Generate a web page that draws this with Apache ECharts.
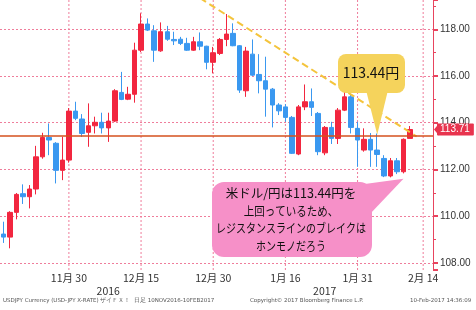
<!DOCTYPE html>
<html><head><meta charset="utf-8">
<script src="https://cdn.jsdelivr.net/npm/echarts@6/dist/echarts.min.js"></script>
<style>html,body{margin:0;padding:0;background:#fff}#c{width:476px;height:310px}</style>
</head><body><div id="c"></div>
<script>
const categories = ['2016-11-16','2016-11-17','2016-11-18','2016-11-21','2016-11-22','2016-11-23','2016-11-24','2016-11-25','2016-11-28','2016-11-29','2016-11-30',
 '2016-12-01','2016-12-02','2016-12-05','2016-12-06','2016-12-07','2016-12-08','2016-12-09','2016-12-12','2016-12-13','2016-12-14','2016-12-15','2016-12-16','2016-12-19','2016-12-20','2016-12-21','2016-12-22','2016-12-23','2016-12-26','2016-12-27','2016-12-28','2016-12-29','2016-12-30',
 '2017-01-02','2017-01-03','2017-01-04','2017-01-05','2017-01-06','2017-01-09','2017-01-10','2017-01-11','2017-01-12','2017-01-13','2017-01-16','2017-01-17','2017-01-18','2017-01-19','2017-01-20','2017-01-23','2017-01-24','2017-01-25','2017-01-26','2017-01-27','2017-01-30','2017-01-31',
 '2017-02-01','2017-02-02','2017-02-03','2017-02-06','2017-02-07','2017-02-08','2017-02-09','2017-02-10','2017-02-13','2017-02-14','2017-02-15'];
const openV  = [109.23,109.10,110.16,110.96,110.83,111.16,112.54,113.37,113.12,111.96,112.40,
 114.50,114.16,113.59,113.87,114.02,113.78,114.07,115.30,115.01,115.22,117.11,118.23,117.94,117.08,117.90,117.57,117.58,117.40,117.11,117.47,117.28,116.59,
 116.97,117.57,117.83,117.30,115.37,116.94,116.07,115.80,115.44,114.76,114.68,114.23,112.66,114.68,114.90,114.40,112.71,113.80,113.33,114.54,115.11,113.76,
 112.83,113.29,112.83,112.47,111.72,112.37,111.90,113.33];
const closeV = [109.10,110.16,110.93,110.83,111.16,112.54,113.37,113.26,111.96,112.40,114.50,
 114.19,113.54,113.87,114.02,113.78,114.07,115.37,115.00,115.22,117.11,118.23,117.97,117.11,117.90,117.58,117.51,117.40,117.11,117.47,117.28,116.59,117.00,
 117.57,117.80,117.30,115.40,117.07,116.04,115.80,115.44,114.76,114.51,114.23,112.69,114.68,114.90,114.66,112.76,113.80,113.33,114.54,115.11,113.80,113.26,
 113.29,112.83,112.64,111.72,112.37,111.90,113.29,113.71];
const lowV   = [108.85,108.62,109.86,110.52,110.33,110.93,112.46,112.61,111.40,111.54,112.29,
 114.11,113.39,112.97,113.54,113.54,113.18,114.03,114.97,114.97,114.86,117.03,117.93,116.61,117.04,117.51,117.33,117.33,117.08,117.08,117.11,116.29,116.12,
 116.90,117.28,117.28,115.28,115.11,116.00,115.26,114.26,113.80,114.33,114.04,112.66,112.61,114.54,114.29,112.61,112.61,113.09,113.09,114.50,113.54,112.11,
 112.76,112.11,112.11,111.67,111.66,111.80,111.83,113.33];
const highV  = [109.76,110.21,110.99,111.36,111.33,113.01,113.57,113.97,113.17,113.40,114.63,
 114.90,114.37,114.83,114.26,114.43,114.43,115.44,116.18,115.54,117.43,118.69,118.47,118.18,118.30,118.15,117.90,117.68,117.64,117.68,117.87,117.30,117.25,
 117.63,118.66,118.26,117.33,117.25,117.57,116.94,116.83,115.49,114.84,114.80,114.29,114.76,115.64,115.47,114.46,113.86,114.04,114.63,115.43,115.23,114.04,
 113.76,113.56,113.54,112.61,112.49,112.49,113.33,113.86];

const xLabelDates = ['2016-11-30','2016-12-15','2016-12-30','2017-01-16','2017-01-31','2017-02-14'];
const xLabelTexts = ['11月 30','12月 15','12月 30','1月 16','1月 31','2月 14'];
const yearLabelDates = ['2016-12-08','2017-01-24'];
const yearLabelTexts = ['2016','2017'];
const yMin = 107.69, yMax = 119.26;
const resistanceLevel = 113.44;
const lastPrice = 113.71;
const trendDates = ['2016-12-28','2017-02-13'];
const trendValues = [119.34, 113.41];
const yellowAnchor = ['2017-02-03', 113.44];
const yellowText = '113.44円';
const pinkAnchor = ['2017-02-09', 111.6];
const pinkLines = ['米ドル/円は113.44円を','上回っているため、','レジスタンスラインのブレイクは','ホンモノだろう'];
const pinkScale = [1.0, 0.84, 0.8, 0.8];
const footerLeft = 'USDJPY Currency (USD-JPY X-RATE) ザイＦＸ！  日足 10NOV2016-10FEB2017';
const footerMid = 'Copyright© 2017 Bloomberg Finance L.P.';
const footerRight = '10-Feb-2017 14:36:09';

const candleData = openV.map((o,i)=>[o, closeV[i], lowV[i], highV[i]]);
const GRID = '#ef7d9b';
const chart = echarts.init(document.getElementById('c'), null, {renderer:'canvas'});
const vGridSeries = xLabelDates.map(d=>({
  type:'line', data:[[d,yMin],[d,yMax]], z:1, symbol:'none', silent:true, clip:true,
  lineStyle:{color:GRID, type:[2,2], width:1}
}));
const option = {
  animation:false,
  backgroundColor:'#ffffff',
  grid:{left:0, right:43, top:0, bottom:40},
  xAxis:[{
    type:'category', data:categories, boundaryGap:true,
    axisLine:{show:false}, axisTick:{show:false}, splitLine:{show:false},
    axisLabel:{interval:(i)=>xLabelDates.indexOf(categories[i])>=0, formatter:v=>{const k=xLabelDates.indexOf(v);return k>=0?xLabelTexts[k]:'';},
      color:'#333', fontSize:10.5, fontFamily:'Noto Sans CJK JP', margin:3}
  },{
    type:'category', data:categories, boundaryGap:true, position:'bottom', offset:13,
    axisLine:{show:false}, axisTick:{show:false}, splitLine:{show:false},
    axisLabel:{interval:(i)=>yearLabelDates.indexOf(categories[i])>=0, formatter:v=>{const k=yearLabelDates.indexOf(v);return k>=0?yearLabelTexts[k]:'';},
      color:'#333', fontSize:10.5, fontFamily:'Noto Sans CJK JP', margin:3}
  }],
  yAxis:{
    type:'value', position:'right', min:yMin, max:yMax, splitNumber:5, scale:true,
    axisLine:{show:true, lineStyle:{color:'#e8445e', width:1}},
    axisTick:{show:true, length:5, lineStyle:{color:'#e8445e', width:2}},
    minorTick:{show:true, splitNumber:2, length:3, lineStyle:{color:'#e8445e', width:1}},
    splitLine:{show:true, showMinLine:false, showMaxLine:false, lineStyle:{color:GRID, type:[2,2], width:1}},
    axisLabel:{showMinLabel:false, showMaxLabel:false, formatter:v=>(Math.abs(v%2)<1e-6 && v>=108 && v<=118)?v.toFixed(2):'',
      color:'#333', fontSize:10, fontFamily:'Liberation Sans', margin:7}
  },
  series:[{
    type:'candlestick', data:candleData, z:3, barWidth:5,
    itemStyle:{color:'#f2263f', color0:'#3a98f0', borderColor:'#f2263f', borderColor0:'#3a98f0', borderWidth:1}
  },{
    type:'line', data:trendDates.map((d,i)=>[d,trendValues[i]]), z:4, symbol:'none', silent:true,
    lineStyle:{color:'#f4c43c', width:2, type:[7,4]}
  },{
    type:'line', data:[], z:5, silent:true,
    markLine:{silent:true, symbol:'none', animation:false,
      data:[
        {yAxis:resistanceLevel, lineStyle:{color:'#d4501e', width:1.5, type:'solid'}, label:{show:false}}
      ]}
  },{
    type:'line', data:[], z:6, silent:true,
    markLine:{silent:true, symbol:'none', animation:false,
      data:[
        {yAxis:lastPrice, lineStyle:{color:'rgba(255,255,255,0)', width:0.1}, label:{show:true, position:'end', distance:4, formatter:lastPrice.toFixed(2),
          backgroundColor:'#e8344e', color:'#ffffff', opacity:1, fontSize:10, fontFamily:'Liberation Sans', padding:[1,4,1,3], borderRadius:1}}
      ]}
  }].concat(vGridSeries)
};
chart.setOption(option);

const ty = chart.convertToPixel({seriesIndex:0}, yellowAnchor);
const tp = chart.convertToPixel({seriesIndex:0}, pinkAnchor);
const lpPix = chart.convertToPixel({seriesIndex:0}, ['2017-02-15', lastPrice]);
const lpY = lpPix[1];
const axisX = 476 - 43;
const graphics = [
  {type:'polygon', z:30, shape:{points:[[axisX+1,lpY],[axisX+6,lpY-6],[axisX+6,lpY+6]]}, style:{fill:'#e8344e'}},
  {type:'polygon', z:20, shape:{points:[[366,90],[388,90],[ty[0],ty[1]-1]]}, style:{fill:'#f5d35c'}},
  {type:'rect', z:21, shape:{x:338, y:54, width:67, height:39, r:8}, style:{fill:'#f5d35c'}},
  {type:'text', z:22, x:371, y:73, style:{text:yellowText, fill:'#111', font:'14px "Noto Sans CJK JP"', align:'center', verticalAlign:'middle'}},
  {type:'polygon', z:20, shape:{points:[[350,186],[370,214],[tp[0],tp[1]]]}, style:{fill:'#f690c8'}},
  {type:'rect', z:21, shape:{x:212, y:182, width:160, height:75, r:12}, style:{fill:'#f690c8'}},
  {type:'text', z:23, left:3, top:298, style:{text:footerLeft, fill:'#555', font:'5.5px "DejaVu Sans"'}},
  {type:'text', z:23, left:250, top:298, style:{text:footerMid, fill:'#555', font:'5.5px "DejaVu Sans"'}},
  {type:'text', z:23, left:410, top:298, style:{text:footerRight, fill:'#555', font:'5.5px "DejaVu Sans"'}}
];
pinkLines.forEach((t,i)=>{
  graphics.push({type:'text', z:22, x:291, y:193.5+i*17.5, scaleX:pinkScale[i],
    style:{text:t, fill:'#111', font:'12.5px "Noto Sans CJK JP"', align:'center', verticalAlign:'middle'}});
});
chart.setOption({graphic:graphics});
</script></body></html>
